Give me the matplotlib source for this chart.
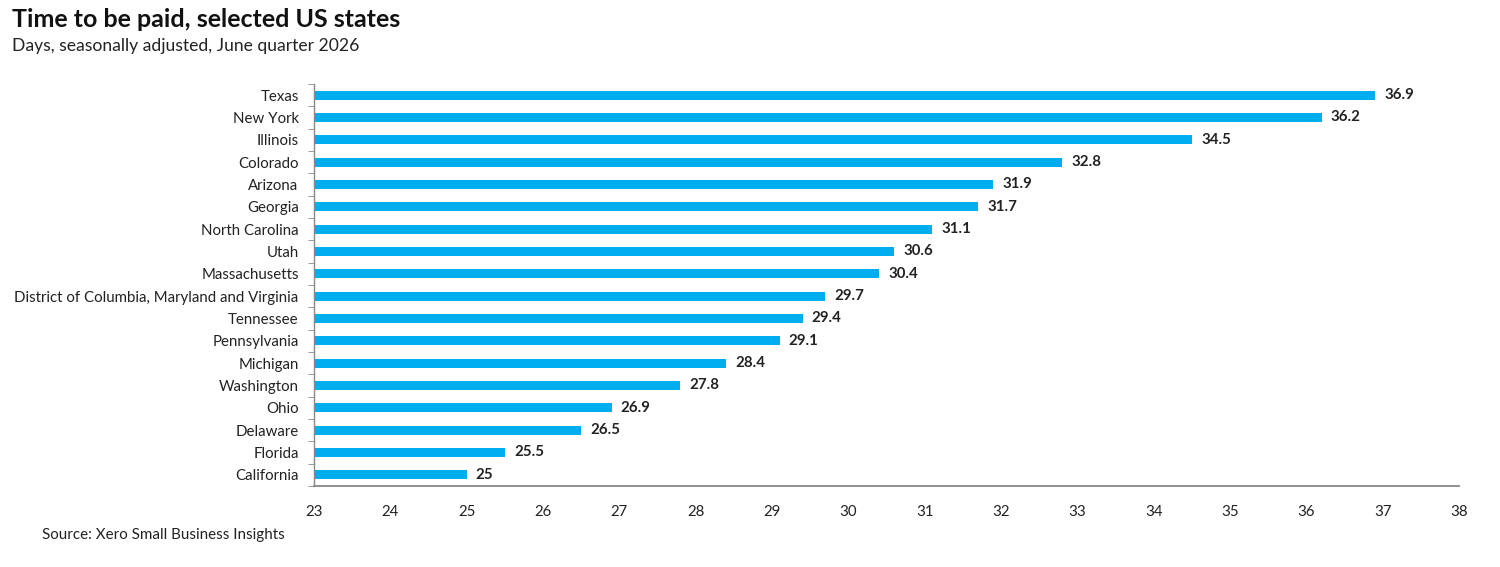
import matplotlib.pyplot as plt
import numpy as np

plt.rcParams['font.family'] = ['Lato', 'DejaVu Sans']

states = ['Texas', 'New York', 'Illinois', 'Colorado', 'Arizona', 'Georgia',
          'North Carolina', 'Utah', 'Massachusetts',
          'District of Columbia, Maryland and Virginia', 'Tennessee',
          'Pennsylvania', 'Michigan', 'Washington', 'Ohio', 'Delaware',
          'Florida', 'California']
days = [36.9, 36.2, 34.5, 32.8, 31.9, 31.7, 31.1, 30.6, 30.4, 29.7, 29.4,
        29.1, 28.4, 27.8, 26.9, 26.5, 25.5, 25]
xticks = list(range(23, 39))

fig = plt.figure(figsize=(15, 5.67), dpi=100)
ax = fig.add_axes([0.2093, 0.1429, 0.7634, 0.709])

y = np.arange(len(states))
ax.barh(y, np.array(days) - 23, left=23, height=0.4, color='#00AEEF')
for yi, v in zip(y, days):
    ax.text(v + 0.12, yi, f'{v:g}', va='center', ha='left', fontsize=10.8,
            fontweight='bold', color='#222222')

ax.set_ylim(len(states) - 0.5, -0.5)
ax.set_xlim(23, 38)
ax.set_yticks(y)
ax.set_yticklabels(states, fontsize=10.8, color='#222222')
ax.set_yticks(np.arange(-0.5, len(states), 1), minor=True)
ax.tick_params(axis='y', which='major', length=0, pad=11)
ax.tick_params(axis='y', which='minor', length=4, color='#888888', direction='out')
ax.set_xticks(xticks)
ax.set_xticklabels([str(t) for t in xticks], fontsize=10.8, color='#222222')
ax.tick_params(axis='x', length=0, pad=14)

for s in ['top', 'right']:
    ax.spines[s].set_visible(False)
ax.spines['left'].set_color('#888888')
ax.spines['bottom'].set_color('#888888')
ax.spines['left'].set_linewidth(1)
ax.spines['bottom'].set_linewidth(1.3)

fig.text(0.008, 0.965, 'Time to be paid, selected US states', fontsize=18,
         fontweight='bold', va='center', ha='left', color='#111111')
fig.text(0.008, 0.918, 'Days, seasonally adjusted, June quarter 2026', fontsize=12.6,
         va='center', ha='left', color='#222222')
fig.text(0.028, 0.057, 'Source: Xero Small Business Insights', fontsize=10.9,
         va='center', ha='left', color='#222222')

fig.savefig('out.png', dpi=100, facecolor='white')
